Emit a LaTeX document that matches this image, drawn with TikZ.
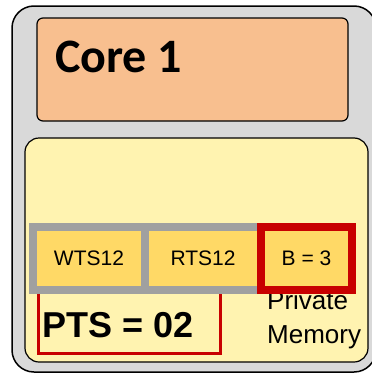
\documentclass[tikz,border=0pt]{standalone}
\usepackage{fontspec}
\setmainfont{Liberation Sans}
\newfontfamily\corefont{Carlito}
\usetikzlibrary{positioning}
\definecolor{tilegray}{HTML}{D9D9D9}
\definecolor{corepeach}{HTML}{F8BF8F}
\definecolor{memyellow}{HTML}{FFF3B0}
\definecolor{cellyellow}{HTML}{FFD966}
\definecolor{cellgray}{HTML}{A0A0A0}
\definecolor{tsred}{HTML}{C80000}
\tikzset{
  cell/.style={draw=cellgray, fill=cellyellow, line width=8pt, inner sep=0pt, outer sep=0pt,
    minimum height=63pt, font=\fontsize{21}{25}\selectfont},
}

\begin{document}
\begin{tikzpicture}[x=1pt, y=-1pt]
  \useasboundingbox (0,0) rectangle (372,375);

  % Tile
  \node[draw, fill=tilegray, line width=1.5pt, rounded corners=22pt, minimum width=364pt, minimum height=366pt] (tile) at (194, 189) {};

  % Core
  \node[draw, fill=corepeach, line width=1.2pt, rounded corners=6pt, minimum width=311pt, minimum height=103pt] (core) at (192.5, 69.5) {};
  \node[anchor=base west, inner sep=0pt, font=\corefont\bfseries\fontsize{48}{52}\selectfont] (corelabel) at (55, 72) {Core 1};

  % Private memory
  \node[draw, fill=memyellow, line width=1.2pt, rounded corners=14pt, minimum width=343pt, minimum height=224pt] (mem) at (196.5, 250) {};
  \node[draw=tsred, line width=3pt, minimum width=182pt, minimum height=68.5pt] (ptsbox) at (129.5, 319.25) {};
  \node[anchor=base west, inner sep=0pt, font=\bfseries\fontsize{36}{40}\selectfont] (pts) at (42, 337) {PTS = 02};
  \node[anchor=base west, inner sep=0pt, align=left, font=\fontsize{26}{34}\selectfont] (memlabel) at (267, 343) {Private\\Memory};

  % Timestamps
  \node[cell, minimum width=112pt] (wts) at (89, 258.5) {WTS12};
  \node[cell, minimum width=116pt, right=0pt of wts] (rts) {RTS12};
  \node[cell, draw=tsred, minimum width=91pt, right=0pt of rts] (bval) {B = 3};
\end{tikzpicture}
\end{document}
